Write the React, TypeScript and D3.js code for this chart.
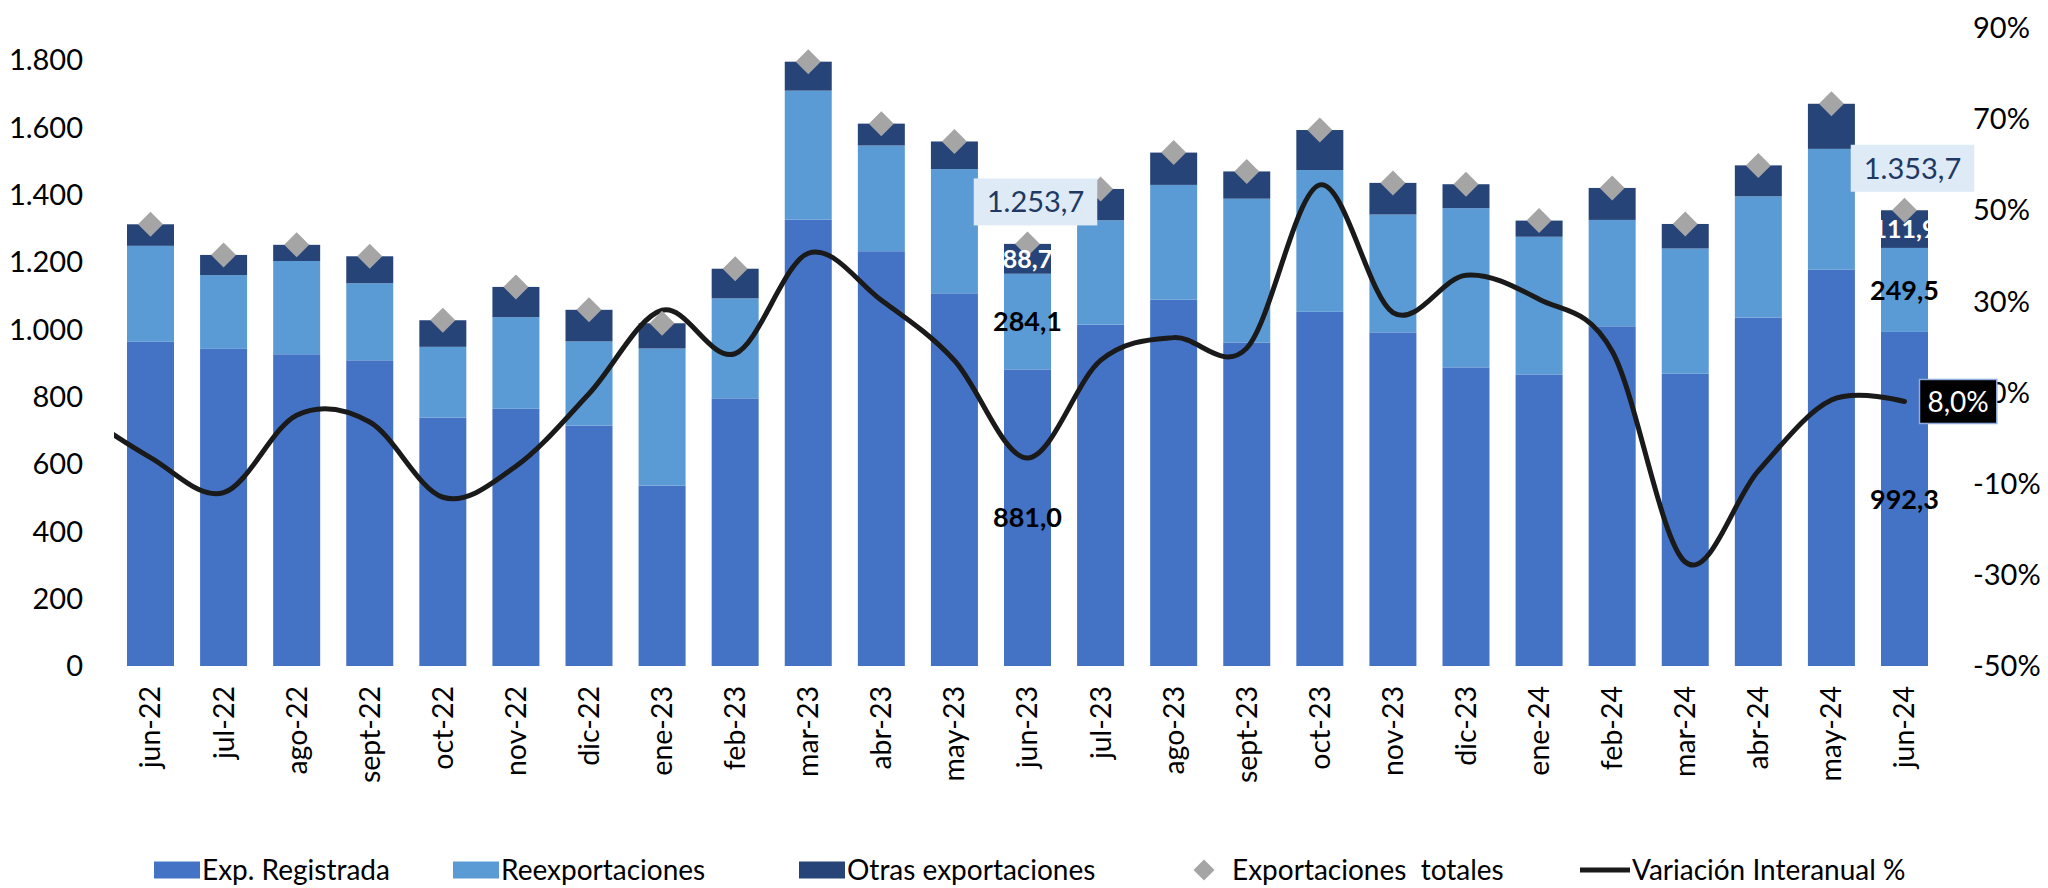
import React, { useEffect, useRef } from "react";
import * as d3 from "d3";

// months shown on the x axis
const months = [
  "jun-22", "jul-22", "ago-22", "sept-22", "oct-22", "nov-22", "dic-22",
  "ene-23", "feb-23", "mar-23", "abr-23", "may-23", "jun-23", "jul-23",
  "ago-23", "sept-23", "oct-23", "nov-23", "dic-23", "ene-24", "feb-24",
  "mar-24", "abr-24", "may-24", "jun-24",
];

// stacked series (millones)
const expRegistrada = [
  963, 942, 926, 908, 738, 764, 714, 536, 795, 1326, 1232, 1107, 881.0,
  1014, 1088, 961, 1052, 991, 887, 866, 1009, 868, 1035, 1177, 992.3,
];
const reexportaciones = [
  285, 219, 277, 229, 210, 272, 250, 407, 297, 383, 314, 369, 284.1,
  310, 341, 427, 421, 350, 473, 409, 316, 372, 360, 359, 249.5,
];
const otrasExportaciones = [
  64, 60, 48, 80, 79, 90, 94, 75, 88, 86, 65, 82, 88.7,
  93, 96, 81, 119, 94, 71, 48, 95, 73, 92, 134, 111.9,
];
// exportaciones totales (diamonds)
const exportacionesTotales = [
  1312, 1221, 1251, 1217, 1027, 1126, 1058, 1018, 1180, 1795, 1611, 1558,
  1253.7, 1417, 1525, 1469, 1592, 1435, 1431, 1323, 1420, 1313, 1487, 1670,
  1353.7,
];

// variación interanual % (right axis)
const variacion = [
  -4.3, -12, 5, 3.5, -13, -6.2, 9.7, 28, 18.5, 40.5, 30.2, 17, -4.4,
  17, 22, 19.7, 55.5, 27.5, 35.7, 30.4, 19, -27.2, -7.2, 8.3, 8.0,
];
// may-22 value, only its stub enters the plot on the left
const variacionPrevia = 6;

const leftTicks = [0, 200, 400, 600, 800, 1000, 1200, 1400, 1600, 1800];
const rightTicks = [-50, -30, -10, 10, 30, 50, 70, 90];

const legendLabels = [
  "Exp. Registrada",
  "Reexportaciones",
  "Otras exportaciones",
  "Exportaciones  totales",
  "Variación Interanual %",
];

// months that carry value labels
const labelledMonths = ["jun-23", "jun-24"];

const colors = {
  reg: "#4472C4",
  reexp: "#5B9BD5",
  otras: "#264478",
  total: "#A5A5A5",
  line: "#1a1a1a",
};

const FONT = "Lato, 'Open Sans', sans-serif";

export default function App() {
  const ref = useRef<SVGSVGElement | null>(null);

  useEffect(() => {
    if (!ref.current) return;
    const svg = d3.select(ref.current);
    svg.selectAll("*").remove();

    const es = d3.formatLocale({
      decimal: ",",
      thousands: ".",
      grouping: [3],
      currency: ["", " €"],
      minus: "-",
    });
    const fmtInt = es.format(",d");
    const fmt1 = es.format(",.1f");

    const plotLeft = 114;
    const plotRight = 1941;

    const x = d3
      .scaleBand()
      .domain(months)
      .range([plotLeft, plotRight])
      .paddingInner(0.357)
      .paddingOuter(0.178);
    const bw = x.bandwidth();
    const step = x.step();
    const cx = (m: string) => (x(m) as number) + bw / 2;

    const yL = d3.scaleLinear().domain([0, 1800]).range([666, 60]);
    const yR = d3.scaleLinear().domain([-50, 90]).range([666, 27.5]);

    const rows = months.map((m, i) => ({
      m,
      reg: expRegistrada[i],
      reexp: reexportaciones[i],
      otras: otrasExportaciones[i],
      total: exportacionesTotales[i],
      v: variacion[i],
    }));

    const keys = ["reg", "reexp", "otras"];
    const stack = d3.stack<any>().keys(keys)(rows);

    // left axis labels
    svg
      .append("g")
      .selectAll("text")
      .data(leftTicks)
      .enter()
      .append("text")
      .attr("x", plotLeft - 31)
      .attr("y", (d) => yL(d))
      .attr("dy", "0.36em")
      .attr("text-anchor", "end")
      .style("font-family", FONT)
      .style("font-size", "29px")
      .attr("fill", "#000")
      .text((d) => fmtInt(d));

    // right axis labels
    svg
      .append("g")
      .selectAll("text")
      .data(rightTicks)
      .enter()
      .append("text")
      .attr("x", plotRight + 32)
      .attr("y", (d) => yR(d))
      .attr("dy", "0.36em")
      .attr("text-anchor", "start")
      .style("font-family", FONT)
      .style("font-size", "29px")
      .attr("fill", "#000")
      .text((d) => d + "%");

    // bars
    svg
      .append("g")
      .selectAll("g")
      .data(stack)
      .enter()
      .append("g")
      .attr("fill", (s) => (colors as any)[s.key])
      .selectAll("rect")
      .data((s) => s)
      .enter()
      .append("rect")
      .attr("x", (d: any) => x(d.data.m) as number)
      .attr("width", bw)
      .attr("y", (d) => yL(d[1]))
      .attr("height", (d) => yL(d[0]) - yL(d[1]));

    // x labels
    svg
      .append("g")
      .selectAll("text")
      .data(months)
      .enter()
      .append("text")
      .attr("transform", (m) => `translate(${cx(m)},686) rotate(-90)`)
      .attr("dy", "0.35em")
      .attr("text-anchor", "end")
      .style("font-family", FONT)
      .style("font-size", "28.5px")
      .attr("fill", "#000")
      .text((m) => m);

    // line (clipped to plot area)
    svg
      .append("clipPath")
      .attr("id", "plot-clip")
      .append("rect")
      .attr("x", plotLeft)
      .attr("y", 0)
      .attr("width", plotRight - plotLeft)
      .attr("height", 700);

    const linePts: [number, number][] = [
      [cx(months[0]) - step, yR(variacionPrevia)],
      ...rows.map((r) => [cx(r.m), yR(r.v)] as [number, number]),
    ];
    const line = d3.line().curve(d3.curveCardinal.tension(0));
    svg
      .append("path")
      .attr("clip-path", "url(#plot-clip)")
      .attr("d", line(linePts))
      .attr("fill", "none")
      .attr("stroke", colors.line)
      .attr("stroke-width", 5)
      .attr("stroke-linejoin", "round")
      .attr("stroke-linecap", "round");

    // total diamonds
    const diamond = (s: number) => `M0,${-s}L${s},0L0,${s}L${-s},0Z`;
    svg
      .append("g")
      .selectAll("path")
      .data(rows)
      .enter()
      .append("path")
      .attr("transform", (r) => `translate(${cx(r.m)},${yL(r.total)})`)
      .attr("d", diamond(12.5))
      .attr("fill", colors.total);

    // value labels
    const lab = svg.append("g");
    rows
      .filter((r) => labelledMonths.includes(r.m))
      .forEach((r) => {
        const c = cx(r.m);
        const top = r.reg + r.reexp + r.otras;
        const segs = [
          { v: r.reg, y0: 0, y1: r.reg, color: "#000", size: 27 },
          { v: r.reexp, y0: r.reg, y1: r.reg + r.reexp, color: "#000", size: 27 },
          { v: r.otras, y0: r.reg + r.reexp, y1: top, color: "#fff", size: 25 },
        ];
        segs.forEach((s) => {
          lab
            .append("text")
            .attr("x", c)
            .attr("y", (yL(s.y0) + yL(s.y1)) / 2)
            .attr("dy", "0.36em")
            .attr("text-anchor", "middle")
            .style("font-family", FONT)
            .style("font-weight", "bold")
            .style("font-size", s.size + "px")
            .attr("fill", s.color)
            .text(fmt1(s.v));
        });

        // total box
        const bx = c + 8;
        const by = yL(r.total) - 42;
        const g = lab.append("g");
        const rect = g.append("rect").attr("fill", "#DEEAF6");
        const t = g
          .append("text")
          .attr("x", bx)
          .attr("y", by)
          .attr("dy", "0.36em")
          .attr("text-anchor", "middle")
          .style("font-family", FONT)
          .style("font-size", "29px")
          .attr("fill", "#203864")
          .text(fmt1(r.total));
        const bb = (t.node() as SVGTextElement).getBBox();
        rect
          .attr("x", bx - bb.width / 2 - 13)
          .attr("y", by - 23.5)
          .attr("width", bb.width + 26)
          .attr("height", 47);
      });

    // last variation label
    const last = rows[rows.length - 1];
    const lx = cx(last.m) + 15;
    const ly = yR(last.v);
    const lg = svg.append("g");
    const lrect = lg
      .append("rect")
      .attr("fill", "#000")
      .attr("stroke", "#8FAADC")
      .attr("stroke-width", 1.5);
    const lt = lg
      .append("text")
      .attr("x", lx + 8)
      .attr("y", ly)
      .attr("dy", "0.36em")
      .style("font-family", FONT)
      .style("font-size", "28px")
      .attr("fill", "#fff")
      .text(fmt1(last.v) + "%");
    const lbb = (lt.node() as SVGTextElement).getBBox();
    lrect
      .attr("x", lx)
      .attr("y", ly - 22)
      .attr("width", lbb.width + 16)
      .attr("height", 44);

    // legend
    const legendX = [154, 453, 799, 1190, 1580];
    const ly0 = 870;
    const leg = svg.append("g");
    legendLabels.forEach((label, i) => {
      const gx = legendX[i];
      let tx = gx + 48;
      if (i < 3) {
        leg
          .append("rect")
          .attr("x", gx)
          .attr("y", ly0 - 8.5)
          .attr("width", 46)
          .attr("height", 17)
          .attr("fill", (colors as any)[keys[i]]);
      } else if (i === 3) {
        leg
          .append("path")
          .attr("transform", `translate(${gx + 14},${ly0})`)
          .attr("d", diamond(10.5))
          .attr("fill", colors.total);
        tx = gx + 42;
      } else {
        leg
          .append("line")
          .attr("x1", gx)
          .attr("x2", gx + 50)
          .attr("y1", ly0)
          .attr("y2", ly0)
          .attr("stroke", colors.line)
          .attr("stroke-width", 5);
        tx = gx + 52;
      }
      leg
        .append("text")
        .attr("x", tx)
        .attr("y", ly0)
        .attr("dy", "0.36em")
        .style("font-family", FONT)
        .style("font-size", "28px")
        .style("white-space", "pre")
        .attr("fill", "#000")
        .text(label);
    });
  }, []);

  return (
    <svg
      ref={ref}
      width={2048}
      height={888}
      style={{ position: "absolute", left: 0, top: 0, background: "#fff" }}
    />
  );
}
